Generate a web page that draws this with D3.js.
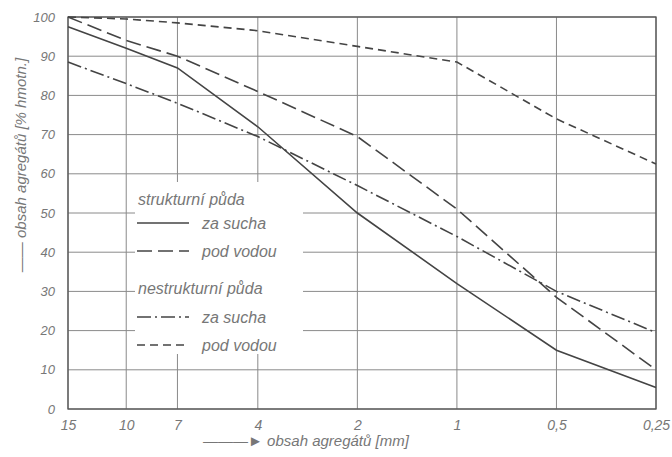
<!DOCTYPE html>
<html><head><meta charset="utf-8">
<script src="https://cdn.jsdelivr.net/npm/d3@7"></script>
<style>
body{margin:0;background:#fff;}
svg text{font-family:"Liberation Sans",sans-serif;font-style:italic;fill:#777;}
</style></head>
<body><svg id="c" width="672" height="457"></svg>
<script>
const sizes = [15, 10, 7, 4, 2, 1, 0.5, 0.25];
const sizeLabels = ["15", "10", "7", "4", "2", "1", "0,5", "0,25"];
const yTicks = [0,10,20,30,40,50,60,70,80,90,100];
const strukturniSucha = [97.5, 92, 87, 72, 50, 32, 15, 5.5];
const strukturniVoda = [100, 94, 90, 81, 69.5, 51, 28.5, 10];
const nestrukturniSucha = [88.5, 83, 78, 69.5, 57, 44, 30, 19.5];
const nestrukturniVoda = [100, 99.5, 98.5, 96.5, 92.5, 88.5, 74, 62.5];
const legendGroups = ["strukturní půda", "nestrukturní půda"];
const legendItems = ["za sucha", "pod vodou"];

const svg = d3.select("#c");
const m = {l:68, r:16, t:17, b:48};
const W = 672, H = 457;
const x = d3.scaleLog().domain([15, 0.25]).range([m.l, W - m.r]);
const y = d3.scaleLinear().domain([0, 100]).range([H - m.b, m.t]);

const series = [
  {v: strukturniSucha, dash: null},
  {v: strukturniVoda, dash: "15,6"},
  {v: nestrukturniSucha, dash: "14,4,2,4"},
  {v: nestrukturniVoda, dash: "8,5"}
];

// grid
const g = svg.append("g");
g.selectAll(".hg").data(yTicks).enter().append("line")
  .attr("x1", m.l).attr("x2", W - m.r)
  .attr("y1", d => y(d)).attr("y2", d => y(d))
  .attr("stroke", "#8a8a8a").attr("stroke-width", 1);
g.selectAll(".vg").data(sizes).enter().append("line")
  .attr("x1", d => x(d)).attr("x2", d => x(d))
  .attr("y1", y(0)).attr("y2", y(100))
  .attr("stroke", "#8a8a8a").attr("stroke-width", 1);
g.append("rect").attr("x", m.l).attr("y", m.t)
  .attr("width", W - m.r - m.l).attr("height", y(0) - m.t)
  .attr("fill", "none").attr("stroke", "#555").attr("stroke-width", 1.3);

const xAxis = d3.axisBottom(x).tickValues(sizes).tickFormat((d,i) => sizeLabels[i]).tickSize(0).tickPadding(11);
const xa = svg.append("g").attr("transform", `translate(0,${y(0)})`).call(xAxis);
xa.select(".domain").remove();
xa.selectAll("text").style("font-size", "14px").attr("fill", "#777").attr("font-family", "Liberation Sans");

const yAxis = d3.axisLeft(y).tickValues(yTicks).tickSize(0).tickPadding(13);
const ya = svg.append("g").attr("transform", `translate(${m.l},0)`).call(yAxis);
ya.select(".domain").remove();
ya.selectAll("text").style("font-size", "13px").attr("fill", "#888").attr("font-family", "Liberation Sans");

const line = d3.line().x((d,i) => x(sizes[i])).y(d => y(d));
series.forEach(s => {
  svg.append("path").datum(s.v).attr("d", line)
    .attr("fill", "none").attr("stroke", "#444").attr("stroke-width", 1.6)
    .attr("stroke-dasharray", s.dash);
});

// legend
const lg = svg.append("g");
lg.append("rect").attr("x", 135).attr("y", 182).attr("width", 168).attr("height", 172).attr("fill", "#fff");
const rows = [
  {type:"h", text: legendGroups[0], y: 199},
  {type:"i", text: legendItems[0], y: 223, s: series[0]},
  {type:"i", text: legendItems[1], y: 251, s: series[1]},
  {type:"h", text: legendGroups[1], y: 288},
  {type:"i", text: legendItems[0], y: 317, s: series[2]},
  {type:"i", text: legendItems[1], y: 345, s: series[3]}
];
rows.forEach(r => {
  if (r.type === "h") {
    lg.append("text").attr("x", 138).attr("y", r.y + 6).text(r.text).style("font-size", "16px");
  } else {
    lg.append("line").attr("x1", 137).attr("x2", 189).attr("y1", r.y).attr("y2", r.y)
      .attr("stroke", "#444").attr("stroke-width", 1.6).attr("stroke-dasharray", r.s.dash);
    lg.append("text").attr("x", 202).attr("y", r.y + 6).text(r.text).style("font-size", "16px");
  }
});

// axis titles
svg.append("text").attr("x", 306).attr("y", 446).attr("text-anchor", "middle")
  .style("font-size", "15px").text("———► obsah agregátů [mm]");
svg.append("text").attr("transform", "translate(26,165) rotate(-90)").attr("text-anchor", "middle")
  .style("font-size", "15px").text("—— obsah agregátů [% hmotn.]");
</script></body></html>
